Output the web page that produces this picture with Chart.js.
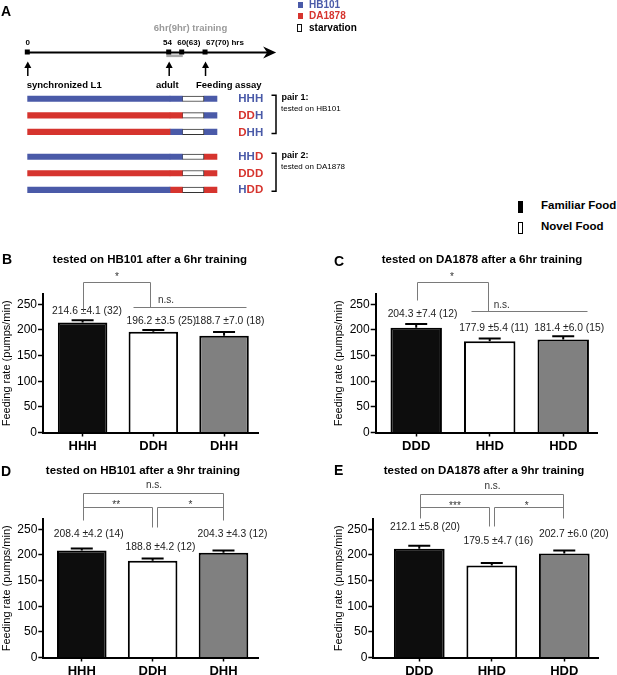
<!DOCTYPE html>
<html>
<head>
<meta charset="utf-8">
<script src="https://cdn.jsdelivr.net/npm/chart.js@4/dist/chart.umd.min.js"></script>
<style>
  body { margin:0; width:617px; height:675px; position:relative; background:#fff; overflow:hidden;
         font-family:"Liberation Sans", Arial, Helvetica, sans-serif; }
  canvas { position:absolute; }
  .c { position:absolute; white-space:nowrap; line-height:1; transform:translate(-50%,-50%); font-weight:bold; }
  .l { position:absolute; white-space:nowrap; line-height:1; transform:translateY(-50%); font-weight:bold; }
  .sw { position:absolute; box-sizing:border-box; }
</style>
</head>
<body>
<canvas id="chartA"></canvas>
<canvas id="chartB"></canvas>
<canvas id="chartC"></canvas>
<canvas id="chartD"></canvas>
<canvas id="chartE"></canvas>

<!-- panel letters + titles -->
<div class="l" style="left:1px;top:11px;font-size:14px">A</div>
<div class="l" style="left:2px;top:259px;font-size:14px">B</div>
<div class="l" style="left:334px;top:261px;font-size:14px">C</div>
<div class="l" style="left:1px;top:471px;font-size:14px">D</div>
<div class="l" style="left:334px;top:470px;font-size:14px">E</div>
<div class="c" style="left:150px;top:260px;font-size:11.5px">tested on HB101 after a 6hr training</div>
<div class="c" style="left:482px;top:260px;font-size:11.5px">tested on DA1878 after a 6hr training</div>
<div class="c" style="left:143px;top:471px;font-size:11.5px">tested on HB101 after a 9hr training</div>
<div class="c" style="left:484px;top:471px;font-size:11.5px">tested on DA1878 after a 9hr training</div>

<!-- strain legend -->
<div class="sw" style="left:298px;top:2px;width:4.5px;height:6px;background:#4a5aa8"></div>
<div class="l" style="left:309px;top:5px;font-size:10px;color:#4a5aa8">HB101</div>
<div class="sw" style="left:298px;top:13px;width:4.5px;height:6px;background:#d6342e"></div>
<div class="l" style="left:309px;top:16px;font-size:10px;color:#d6342e">DA1878</div>
<div class="sw" style="left:297px;top:24px;width:5px;height:8px;border:1px solid #111"></div>
<div class="l" style="left:309px;top:27.5px;font-size:10px">starvation</div>

<!-- food legend -->
<div class="sw" style="left:518px;top:200.5px;width:4.5px;height:12.5px;background:#000"></div>
<div class="l" style="left:541px;top:206px;font-size:11.5px">Familiar Food</div>
<div class="sw" style="left:518px;top:221.5px;width:4.5px;height:12.5px;border:1.3px solid #000"></div>
<div class="l" style="left:541px;top:226.5px;font-size:11.5px">Novel Food</div>

<script>
const FONT = '"Liberation Sans", Arial, Helvetica, sans-serif';
Chart.defaults.font.family = FONT;

// ---- panel A: feeding schedule ----
const ROWS = ['HHH', 'DDH', 'DHH', 'HHD', 'DDD', 'HDD'];
const PHASE_HRS = [0, 53.8, 58.4, 66.6, 71.5];   // food 1 | food 2 | starvation | assay food, as drawn
const TIME_MARKS = [0, 53.3, 58.2, 67];
const TIME_LABELS = ['0', '54', '60(63)', '67(70) hrs'];
const TRAIN_HRS = [52.4, 58.6];
const TIME_END = 93.8;
const ARROW_AT = [0, 53.3, 67];
const ARROW_TEXT = ['synchronized L1', 'adult', 'Feeding assay'];
const PAIR_TITLES = ['pair 1:', 'pair 2:'];
const PAIR_NOTES = ['tested on HB101', 'tested on DA1878'];

// ---- panels B-E: feeding rate (pumps/min) ----
const B_CATS = ['HHH', 'DDH', 'DHH'];
const B_MEAN = [214.6, 196.2, 188.7];
const B_SEM = [4.1, 3.5, 7.0];
const B_N = [32, 25, 18];

const C_CATS = ['DDD', 'HHD', 'HDD'];
const C_MEAN = [204.3, 177.9, 181.4];
const C_SEM = [7.4, 5.4, 6.0];
const C_N = [12, 11, 15];

const D_CATS = ['HHH', 'DDH', 'DHH'];
const D_MEAN = [208.4, 188.8, 204.3];
const D_SEM = [4.2, 4.2, 4.3];
const D_N = [14, 12, 12];

const E_CATS = ['DDD', 'HHD', 'HDD'];
const E_MEAN = [212.1, 179.5, 202.7];
const E_SEM = [5.8, 4.7, 6.0];
const E_N = [20, 16, 20];

const Y_MAX = 270, Y_STEP = 50;

const HB = '#4a5aa8', DA = '#d6342e';
const BAR_FILL = ['#0d0d0d', '#ffffff', '#808080'];
const foodColor = c => c === 'H' ? HB : DA;

// layout of each bar panel (canvas box, axis geometry, annotation spots in data units)
const LAY = {
  B: { left:0, top:262, w:305, h:193, padTop:32, yw:43, right:258, xh:22.5, xmin:-0.56, xmax:2.48,
       labelAt:[[0.062,236.8],[1.113,217.4],[2.078,217.4]],
       lines:[[[0,240.7],[0,294],[0.953,294],[0.953,245.2]], [[0.713,245.2],[2.311,245.2]]],
       marks:[['*',0.487,307],['n.s.',1.18,257.7]] },
  C: { left:332, top:262, w:285, h:193, padTop:32, yw:43.7, right:597.7, xh:22.5, xmin:-0.551, xmax:2.469,
       labelAt:[[0.086,231],[1.056,203],[2.082,203]],
       lines:[[[0.007,258.3],[0.007,294],[0.973,294],[0.973,236.8]], [[0.741,236.8],[2.324,236.8]]],
       marks:[['*',0.487,307],['n.s.',1.165,248.5]] },
  D: { left:0, top:475, w:305, h:200, padTop:44, yw:43.3, right:258, xh:17.5, xmin:-0.543, xmax:2.487,
       labelAt:[[0.098,241.3],[1.111,216],[2.127,241.3]],
       lines:[[[0.021,268],[0.021,320],[1.997,320],[1.997,268]],
              [[0.021,294],[0.987,294],[0.987,255]],
              [[1.057,255],[1.057,294],[1.997,294]]],
       marks:[['**',0.486,302],['*',1.534,302],['n.s.',1.02,336.3]] },
  E: { left:332, top:475, w:285, h:200, padTop:44, yw:41.3, right:598, xh:17.5, xmin:-0.634, xmax:2.465,
       labelAt:[[0.079,253.8],[1.09,227.5],[2.131,240.7]],
       lines:[[[0.01,271],[0.01,318],[1.986,318],[1.986,271]],
              [[0.01,292.8],[0.966,292.8],[0.966,256.3]],
              [[1.034,256.3],[1.034,292.8],[1.986,292.8]]],
       marks:[['***',0.492,300.6],['*',1.48,300.6],['n.s.',1.01,333.7]] }
};

function barPanel(id, d, L){
  const cv = document.getElementById(id);
  cv.style.left = L.left + 'px'; cv.style.top = L.top + 'px';
  cv.width = L.w; cv.height = L.h;

  const extras = {
    id: 'extras',
    afterDatasetsDraw(chart){
      const { ctx, scales:{ x, y } } = chart;
      const meta = chart.getDatasetMeta(0);
      ctx.save();
      // SEM bars (upper half only)
      ctx.strokeStyle = '#000'; ctx.lineWidth = 2;
      meta.data.forEach((bar, i) => {
        const top = y.getPixelForValue(d.mean[i] + d.sem[i]);
        const half = 11;
        ctx.beginPath();
        ctx.moveTo(bar.x, bar.y); ctx.lineTo(bar.x, top);
        ctx.moveTo(bar.x - half, top); ctx.lineTo(bar.x + half, top);
        ctx.stroke();
      });
      // mean ± sem (n)
      ctx.font = '10.3px ' + FONT; ctx.fillStyle = '#222';
      ctx.textAlign = 'center'; ctx.textBaseline = 'middle';
      L.labelAt.forEach(([lx, ly], i) => {
        const txt = d.mean[i].toFixed(1) + ' \u00b1' + d.sem[i].toFixed(1) + ' (' + d.n[i] + ')';
        ctx.fillText(txt, x.getPixelForValue(lx), y.getPixelForValue(ly));
      });
      // significance brackets
      ctx.strokeStyle = '#7a7a7a'; ctx.lineWidth = 1;
      L.lines.forEach(pts => {
        ctx.beginPath();
        pts.forEach(([a, b], k) => {
          const X = Math.round(x.getPixelForValue(a)) + 0.5, Y = Math.round(y.getPixelForValue(b)) + 0.5;
          k ? ctx.lineTo(X, Y) : ctx.moveTo(X, Y);
        });
        ctx.stroke();
      });
      ctx.fillStyle = '#333'; ctx.font = '10px ' + FONT;
      L.marks.forEach(([t, a, b]) => {
        ctx.fillText(t, x.getPixelForValue(a), y.getPixelForValue(b) + (t[0] === '*' ? 2.5 : 0));
      });
      ctx.restore();
    }
  };

  return new Chart(cv, {
    type: 'bar',
    data: { datasets: [{
      data: d.cats.map((c, i) => ({ x: i, y: d.mean[i] })),
      backgroundColor: BAR_FILL, borderColor: '#000', borderWidth: 2,
      barPercentage: 0.7, categoryPercentage: 1
    }]},
    options: {
      responsive: false, animation: false, events: [],
      layout: { padding: { left: 0, top: L.padTop, right: L.left + L.w - L.right, bottom: 0 } },
      plugins: { legend: { display: false }, tooltip: { enabled: false } },
      scales: {
        x: { type: 'linear', min: L.xmin, max: L.xmax, offset: false,
             afterBuildTicks: s => { s.ticks = d.cats.map((c, i) => ({ value: i })); },
             afterFit: s => { s.height = L.xh; },
             ticks: { callback: v => d.cats[v], color: '#000', font: { size: 13, weight: 'bold' },
                      padding: 2, maxRotation: 0, autoSkip: false },
             grid: { offset: false, drawOnChartArea: false, tickLength: 4, tickColor: '#000', tickWidth: 1.5 },
             border: { color: '#000', width: 2 } },
        y: { min: 0, max: Y_MAX,
             ticks: { stepSize: Y_STEP, includeBounds: false, color: '#000', font: { size: 12 }, padding: 1 },
             grid: { drawOnChartArea: false, tickLength: 5, tickColor: '#000', tickWidth: 1.5 },
             border: { color: '#000', width: 2 },
             title: { display: true, text: 'Feeding rate (pumps/min)', color: '#000', font: { size: 11 }, padding: 0 },
             afterFit: s => { s.width = L.yw; } }
      }
    },
    plugins: [extras]
  });
}

barPanel('chartB', { cats:B_CATS, mean:B_MEAN, sem:B_SEM, n:B_N }, LAY.B);
barPanel('chartC', { cats:C_CATS, mean:C_MEAN, sem:C_SEM, n:C_N }, LAY.C);
barPanel('chartD', { cats:D_CATS, mean:D_MEAN, sem:D_SEM, n:D_N }, LAY.D);
barPanel('chartE', { cats:E_CATS, mean:E_MEAN, sem:E_SEM, n:E_N }, LAY.E);

// ---- panel A chart ----
const rowPos = ROWS.map((r, i) => i + (i >= 3 ? 0.5 : 0));
const seg = k => ROWS.map((r, i) => ({ x: [PHASE_HRS[k], PHASE_HRS[k + 1]], y: rowPos[i] }));

const timeline = {
  id: 'timeline',
  afterDraw(chart){
    const { ctx, scales:{ x, y } } = chart;
    const px = v => x.getPixelForValue(v);
    const LY = 52.5;
    ctx.save();
    // training window
    ctx.fillStyle = '#a9a9a9';
    ctx.fillRect(px(TRAIN_HRS[0]), LY + 2, px(TRAIN_HRS[1]) - px(TRAIN_HRS[0]), 2.6);
    // time axis
    ctx.strokeStyle = '#000'; ctx.fillStyle = '#000'; ctx.lineWidth = 2;
    const tip = px(TIME_END);
    ctx.beginPath(); ctx.moveTo(px(0), LY); ctx.lineTo(tip - 8, LY); ctx.stroke();
    ctx.beginPath();
    ctx.moveTo(tip, LY); ctx.lineTo(tip - 13, LY - 6); ctx.lineTo(tip - 9, LY);
    ctx.lineTo(tip - 13, LY + 6); ctx.closePath(); ctx.fill();
    TIME_MARKS.forEach(m => ctx.fillRect(px(m) - 2.5, LY - 3, 5, 5));
    // mark labels
    ctx.font = 'bold 8px ' + FONT; ctx.textBaseline = 'middle';
    ctx.textAlign = 'center';
    ctx.fillText(TIME_LABELS[0], px(TIME_MARKS[0]) + 0.5, 42.5);
    ctx.fillText(TIME_LABELS[1], px(TIME_MARKS[1]) - 1.3, 42.5);
    ctx.textAlign = 'left';
    ctx.fillText(TIME_LABELS[2], px(TIME_MARKS[2]) - 4.5, 42.5);
    ctx.fillText(TIME_LABELS[3], px(TIME_MARKS[3]) + 1, 42.5);
    ctx.fillStyle = '#9a9a9a'; ctx.font = 'bold 9.5px ' + FONT; ctx.textAlign = 'center';
    ctx.fillText('6hr(9hr) training', 190.5, 28.5);
    // up arrows
    ctx.fillStyle = '#000'; ctx.lineWidth = 1.5;
    ARROW_AT.forEach(a => {
      const ax = px(a) + 0.5;
      ctx.beginPath(); ctx.moveTo(ax, 76); ctx.lineTo(ax, 66); ctx.stroke();
      ctx.beginPath(); ctx.moveTo(ax, 61.5); ctx.lineTo(ax - 3.5, 68); ctx.lineTo(ax + 3.5, 68); ctx.closePath(); ctx.fill();
    });
    ctx.font = 'bold 9.5px ' + FONT; ctx.textAlign = 'left';
    ctx.fillText(ARROW_TEXT[0], px(ARROW_AT[0]) - 0.6, 85);
    ctx.textAlign = 'center';
    ctx.fillText(ARROW_TEXT[1], px(ARROW_AT[1]) - 1.4, 85);
    ctx.textAlign = 'left';
    ctx.fillText(ARROW_TEXT[2], px(ARROW_AT[2]) - 9, 85);
    // row labels, letter by letter in food colour
    ctx.font = 'bold 11.5px ' + FONT;
    ROWS.forEach((r, i) => {
      let lx = 238.3;
      const ly = y.getPixelForValue(rowPos[i]) + 0.5;
      for (const ch of r) {
        ctx.fillStyle = foodColor(ch);
        ctx.fillText(ch, lx, ly);
        lx += ctx.measureText(ch).width;
      }
    });
    // pair brackets
    ctx.strokeStyle = '#000'; ctx.lineWidth = 1.5; ctx.fillStyle = '#000';
    [[0, 2], [3, 5]].forEach(([a, b], k) => {
      const t = y.getPixelForValue(rowPos[a]) - 3.5, bt = y.getPixelForValue(rowPos[b]) + 1.5;
      ctx.beginPath(); ctx.moveTo(271.5, t); ctx.lineTo(276, t); ctx.lineTo(276, bt); ctx.lineTo(271.5, bt); ctx.stroke();
      ctx.font = 'bold 9px ' + FONT;
      ctx.fillText(PAIR_TITLES[k], 281.5, t + 2);
      ctx.font = '8px ' + FONT;
      ctx.fillText(PAIR_NOTES[k], 281, t + 13.5);
    });
    ctx.restore();
  }
};

(function(){
  const cv = document.getElementById('chartA');
  cv.style.left = '0px'; cv.style.top = '0px';
  cv.width = 360; cv.height = 200;
  new Chart(cv, {
    type: 'bar',
    data: { datasets: [
      { data: seg(0), backgroundColor: ROWS.map(r => foodColor(r[0])) },
      { data: seg(1), backgroundColor: ROWS.map(r => foodColor(r[1])) },
      { data: seg(2), backgroundColor: '#fff', borderColor: '#333', borderWidth: 1, borderSkipped: false },
      { data: seg(3), backgroundColor: ROWS.map(r => foodColor(r[2])) }
    ]},
    options: {
      indexAxis: 'y', responsive: false, animation: false, events: [],
      datasets: { bar: { grouped: false, barThickness: 5.5 } },
      layout: { padding: { left: 27.3, right: 360 - 218.3, top: 90.5, bottom: 1.9 } },
      plugins: { legend: { display: false }, tooltip: { enabled: false } },
      scales: {
        x: { type: 'linear', min: 0, max: 72, display: false },
        y: { type: 'linear', min: -0.5, max: 6, reverse: true, display: false, offset: false }
      }
    },
    plugins: [timeline]
  });
})();
</script>
</body>
</html>
